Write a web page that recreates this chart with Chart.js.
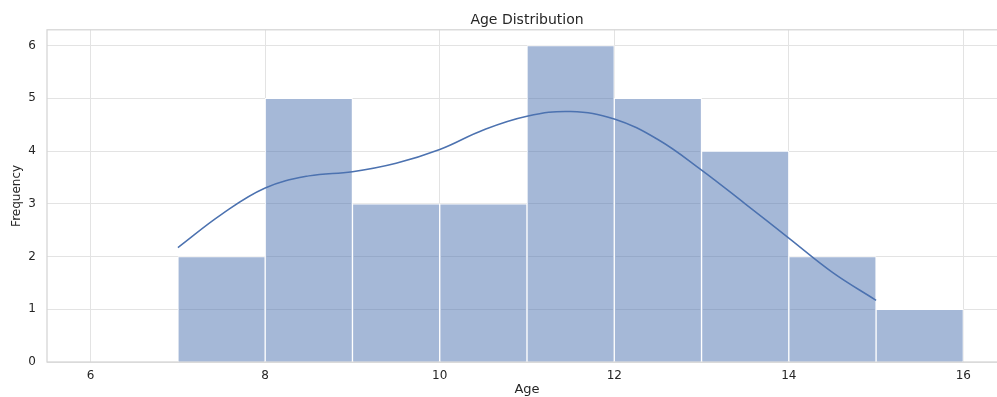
<!DOCTYPE html>
<html>
<head>
<meta charset="utf-8">
<script src="https://cdn.jsdelivr.net/npm/chart.js@4/dist/chart.umd.min.js"></script>
<style>
  html, body { margin: 0; padding: 0; background: #ffffff; overflow: hidden; }
  #wrap { width: 997px; height: 397px; overflow: hidden; }
  canvas { display: block; }
</style>
</head>
<body>
<div id="wrap"><canvas id="chart" width="1007" height="397"></canvas></div>
<script>
// Histogram bins (left edge of each one-year bin) and counts
const binStarts = [7, 8, 9, 10, 11, 12, 13, 14, 15];
const binCounts = [2, 5, 3, 3, 6, 5, 4, 2, 1];
const binWidth = 1;

// Smoothed density curve, scaled to counts
const kdeAges    = [7.0, 7.5, 8.0, 8.5, 9.0, 9.5, 10.0, 10.5, 11.0, 11.5, 12.0, 12.5, 13.0, 13.5, 14.0, 14.5, 15.0];
const kdeDensity = [2.17, 2.80, 3.30, 3.53, 3.61, 3.77, 4.03, 4.40, 4.66, 4.75, 4.61, 4.22, 3.64, 3.00, 2.35, 1.70, 1.17];

const xTicks = [6, 8, 10, 12, 14, 16];
const yTicks = [0, 1, 2, 3, 4, 5, 6];

const ink = '#262626';
const gridColor = '#e3e3e3';
const spineColor = '#d4d4d4';
const blue = '#4c72b0';

// Frame on all four sides of the plotting area
const frame = {
  id: 'frame',
  beforeDatasetsDraw(chart) {
    const { ctx, chartArea: a } = chart;
    ctx.save();
    ctx.strokeStyle = spineColor;
    ctx.lineWidth = 1.25;
    ctx.strokeRect(a.left, a.top, a.right - a.left, a.bottom - a.top);
    ctx.restore();
  }
};

new Chart(document.getElementById('chart'), {
  type: 'bar',
  data: {
    datasets: [
      {
        type: 'line',
        data: kdeAges.map((x, i) => ({ x, y: kdeDensity[i] })),
        borderColor: blue,
        borderWidth: 1.5,
        pointRadius: 0,
        tension: 0.4,
        fill: false,
        order: 1
      },
      {
        type: 'bar',
        data: binStarts.map((s, i) => ({ x: s + binWidth / 2, y: binCounts[i] })),
        backgroundColor: 'rgba(76,114,176,0.5)',
        borderColor: '#ffffff',
        borderWidth: 1,
        barPercentage: 1,
        categoryPercentage: 1,
        order: 2
      }
    ]
  },
  options: {
    responsive: false,
    animation: false,
    events: [],
    layout: { padding: 0 },
    plugins: {
      legend: { display: false },
      tooltip: { enabled: false },
      title: {
        display: true,
        text: 'Age Distribution',
        fullSize: false,
        color: ink,
        font: { family: 'DejaVu Sans', size: 14, weight: 'normal' },
        padding: { top: 12, bottom: 1 }
      }
    },
    scales: {
      x: {
        type: 'linear',
        offset: false,
        min: 5.5,
        max: 16.5,
        afterBuildTicks(scale) { scale.ticks = xTicks.map(v => ({ value: v })); },
        afterFit(scale) { scale.height = 35; },
        grid: { color: gridColor, lineWidth: 1, drawTicks: false, offset: false },
        border: { display: false },
        ticks: {
          color: ink,
          padding: 7,
          maxRotation: 0,
          font: { family: 'DejaVu Sans', size: 12 }
        },
        title: {
          display: true,
          text: 'Age',
          color: ink,
          font: { family: 'DejaVu Sans', size: 13 },
          padding: { top: 0, bottom: 0 }
        }
      },
      y: {
        type: 'linear',
        min: 0,
        max: 6.3,
        afterBuildTicks(scale) { scale.ticks = yTicks.map(v => ({ value: v })); },
        afterFit(scale) { scale.width = 47; },
        grid: { color: gridColor, lineWidth: 1, drawTicks: false },
        border: { display: false },
        ticks: {
          color: ink,
          padding: 11,
          font: { family: 'DejaVu Sans', size: 12 }
        },
        title: {
          display: true,
          text: 'Frequency',
          color: ink,
          font: { family: 'DejaVu Sans', size: 12 },
          padding: { top: 10, bottom: 0 }
        }
      }
    }
  },
  plugins: [frame]
});
</script>
</body>
</html>
